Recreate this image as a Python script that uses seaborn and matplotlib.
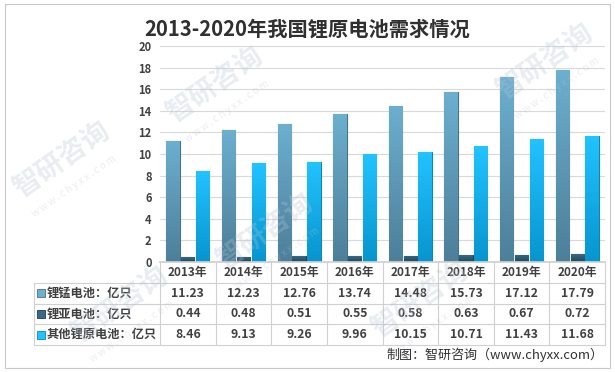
import matplotlib
matplotlib.use("Agg")
import matplotlib.pyplot as plt
import matplotlib.colors as mcolors
import numpy as np
import pandas as pd
import seaborn as sns

years = ["2013年", "2014年", "2015年", "2016年", "2017年", "2018年", "2019年", "2020年"]
series_names = ["锂锰电池：亿只", "锂亚电池：亿只", "其他锂原电池：亿只"]
limn = [11.23, 12.23, 12.76, 13.74, 14.48, 15.73, 17.12, 17.79]
lisocl = [0.44, 0.48, 0.51, 0.55, 0.58, 0.63, 0.67, 0.72]
other = [8.46, 9.13, 9.26, 9.96, 10.15, 10.71, 11.43, 11.68]
title = "2013-2020年我国锂原电池需求情况"
source = "制图：智研咨询（www.chyxx.com）"
watermark = "智研咨询"
watermark_url = "w w w . c h y x x . c o m"

# top / bottom colours of the gradient fills
grad = [("#6cafcf", "#4d7f99"), ("#356a88", "#22475d"), ("#22c3ff", "#0795cf")]
edges = ["#44738c", "#1d3e52", "#0a86bb"]

sns.set_theme(style="white")
plt.rcParams["font.family"] = ["Noto Sans CJK SC", "DejaVu Sans"]

W, H = 615, 372
fig = plt.figure(figsize=(W / 100, H / 100), dpi=100)


def px(x0, y0, x1, y1):
    return [x0 / W, 1 - y1 / H, (x1 - x0) / W, (y1 - y0) / H]


df = pd.DataFrame({
    "year": years * 3,
    "series": np.repeat(series_names, len(years)),
    "value": limn + lisocl + other,
})

ax = fig.add_axes(px(160, 46, 605, 262))
sns.barplot(data=df, x="year", y="value", hue="series", hue_order=series_names,
            palette=[g[0] for g in grad], width=0.8, gap=0.1, legend=False, ax=ax)

# gradient fill clipped to each bar
ramp = np.linspace(0, 1, 64).reshape(-1, 1)
for i, container in enumerate(ax.containers):
    cmap = mcolors.LinearSegmentedColormap.from_list("g", [grad[i][0], grad[i][1]])
    for bar in container:
        x0, y0 = bar.get_x(), bar.get_y()
        w, h = bar.get_width(), bar.get_height()
        bar.set_edgecolor(edges[i])
        bar.set_linewidth(0.8)
        im = ax.imshow(ramp, cmap=cmap, aspect="auto", extent=(x0, x0 + w, y0, y0 + h),
                       origin="upper", zorder=bar.get_zorder())
        im.set_clip_path(bar)

ax.set_xlim(-0.5, len(years) - 0.5)
ax.set_ylim(0, 20)
ax.set_yticks(range(0, 21, 2))
ax.tick_params(axis="y", labelsize=8, colors="#404040", pad=6, length=0)
for lab in ax.get_yticklabels():
    lab.set_fontweight("bold")
ax.set_xticks([])
ax.set_xlabel("")
ax.set_ylabel("")
ax.grid(axis="y", color="#d9d9d9", linewidth=0.8)
ax.set_axisbelow(True)
for side in ["left", "right", "top"]:
    ax.spines[side].set_visible(False)
ax.spines["bottom"].set_color("#d0d0d0")

# data table under the bars
tab = fig.add_axes(px(160, 262, 605, 345))
tab.set_xlim(-0.5, len(years) - 0.5)
tab.set_ylim(4, 0)
tab.axis("off")
line_kw = dict(color="#d0d0d0", linewidth=0.8, clip_on=False)
left = -0.5 - (160 - 34) / (445 / len(years))
for r in range(1, 5):
    tab.plot([left, len(years) - 0.5], [r, r], **line_kw)
for c in range(len(years) + 1):
    tab.plot([c - 0.5, c - 0.5], [0, 4], **line_kw)
tab.plot([left, left], [1, 4], **line_kw)

txt = "#404040"
for i, yr in enumerate(years):
    tab.text(i, 0.5, yr, ha="center", va="center", fontsize=8.5, fontweight="bold", color=txt)
for r, (name, vals) in enumerate(zip(series_names, [limn, lisocl, other]), start=1):
    tab.scatter([left + 0.12], [r + 0.5], marker="s", s=28, color=grad[r - 1][0],
                edgecolor=edges[r - 1], linewidth=0.6, clip_on=False)
    tab.text(left + 0.22, r + 0.5, name, ha="left", va="center", fontsize=8.8,
             fontweight="bold", color=txt)
    for i, v in enumerate(vals):
        tab.text(i, r + 0.5, f"{v:.2f}", ha="center", va="center", fontsize=8.8,
                 fontweight="bold", color=txt)

fig.text(307 / W, 1 - 29 / H, title, ha="center", va="center", fontsize=14.6,
         fontweight="bold", color="#303030")
fig.text(603 / W, 1 - 355 / H, source, ha="right", va="center", fontsize=9.4, color="#303030")

# faint diagonal watermarks
for wx, wy in [(62, 160), (215, 85), (265, 232), (120, 305), (420, 300), (545, 62)]:
    fig.text(wx / W, 1 - wy / H, watermark, ha="center", va="center", rotation=35,
             fontsize=20, fontweight="bold", color="#b8c4d4", alpha=0.3, zorder=10)
    fig.text((wx + 12) / W, 1 - (wy + 26) / H, watermark_url, ha="center", va="center",
             rotation=35, fontsize=7, color="#b8c4d4", alpha=0.3, zorder=10)

# outer border
fig.patches.append(plt.Rectangle((5 / W, 4 / H), 605 / W, 364 / H, transform=fig.transFigure,
                                 fill=False, edgecolor="#c8c8c8", linewidth=0.8))

fig.savefig("out.png", dpi=100, facecolor="white")
